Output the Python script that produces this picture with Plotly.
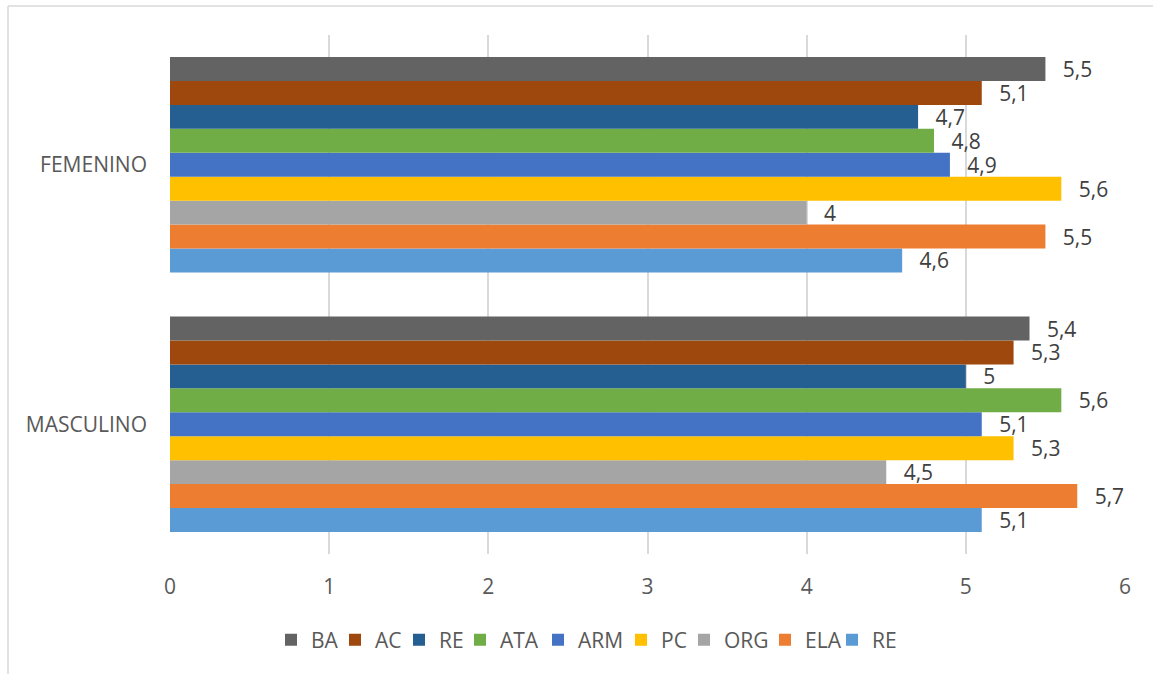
import plotly.graph_objects as go

categories = ["MASCULINO", "FEMENINO"]
series_names = ["BA", "AC", "RE", "ATA", "ARM", "PC", "ORG", "ELA", "RE"]
series_colors = ["#636363", "#9E480E", "#255E91", "#70AD47", "#4472C4",
                 "#FFC000", "#A5A5A5", "#ED7D31", "#5B9BD5"]
# values: [MASCULINO, FEMENINO]
ba = [5.4, 5.5]
ac = [5.3, 5.1]
re1 = [5.0, 4.7]
ata = [5.6, 4.8]
arm = [5.1, 4.9]
pc = [5.3, 5.6]
org = [4.5, 4.0]
ela = [5.7, 5.5]
re2 = [5.1, 4.6]
series_values = [ba, ac, re1, ata, arm, pc, org, ela, re2]
x_ticks = [0, 1, 2, 3, 4, 5, 6]

# legend entry widths (px) to mimic the reference spacing
legend_widths = [19, 19, 16, 33, 38, 18, 36, 22, 22]

FONT = "'Open Sans', Lato, sans-serif"
FS = 21

def fmt(v):
    s = ("%g" % v)
    return "\u00a0\u00a0\u2009" + s.replace(".", ",")

fig = go.Figure()
# add in reverse so first series is drawn at top of each group
for name, color, vals, lw in reversed(list(zip(series_names, series_colors,
                                               series_values, legend_widths))):
    fig.add_trace(go.Bar(
        y=categories, x=vals, name=name, orientation="h",
        marker=dict(color=color, line=dict(width=0)),
        text=[fmt(v) for v in vals], textposition="outside",
        constraintext="none",
        textfont=dict(family=FONT, size=FS, color="#404040"),
        cliponaxis=False,
        legendwidth=lw,
    ))

W, H = 1158, 674
L, R, T, B = 170, 33, 35, 120
pw, ph = W - L - R, H - T - B

fig.update_layout(
    width=W, height=H,
    margin=dict(l=L, r=R, t=T, b=B),
    barmode="group", bargap=0.17, bargroupgap=0,
    plot_bgcolor="white", paper_bgcolor="white",
    font=dict(family=FONT, size=FS, color="#595959"),
    xaxis=dict(range=[0, 6], tickvals=x_ticks, ticktext=[str(t) for t in x_ticks],
               showgrid=True, gridcolor="#D9D9D9", gridwidth=1.5,
               zeroline=False, showline=False, ticks="", ticklabelstandoff=18,
               tickfont=dict(size=FS, color="#595959")),
    yaxis=dict(showgrid=False, zeroline=False, showline=False, ticks="",
               ticklabelstandoff=22,
               tickfont=dict(size=FS, color="#595959")),
    legend=dict(orientation="h", traceorder="reversed",
                x=(271 - L) / pw, xanchor="left",
                y=-(640 - (T + ph)) / ph, yanchor="middle",
                font=dict(size=FS, color="#595959"), itemwidth=30,
                bgcolor="rgba(0,0,0,0)"),
    showlegend=True,
    shapes=[
        dict(type="line", xref="paper", yref="paper",
             x0=(8 - L) / pw, x1=(1153 - L) / pw,
             y0=1 + (T - 6) / ph, y1=1 + (T - 6) / ph,
             line=dict(color="#D9D9D9", width=1.5)),
        dict(type="line", xref="paper", yref="paper",
             x0=(8 - L) / pw, x1=(8 - L) / pw,
             y0=1 + (T - 6) / ph, y1=-(H - T - ph) / ph,
             line=dict(color="#D9D9D9", width=1.5)),
    ],
)

fig.write_html("out.html")
